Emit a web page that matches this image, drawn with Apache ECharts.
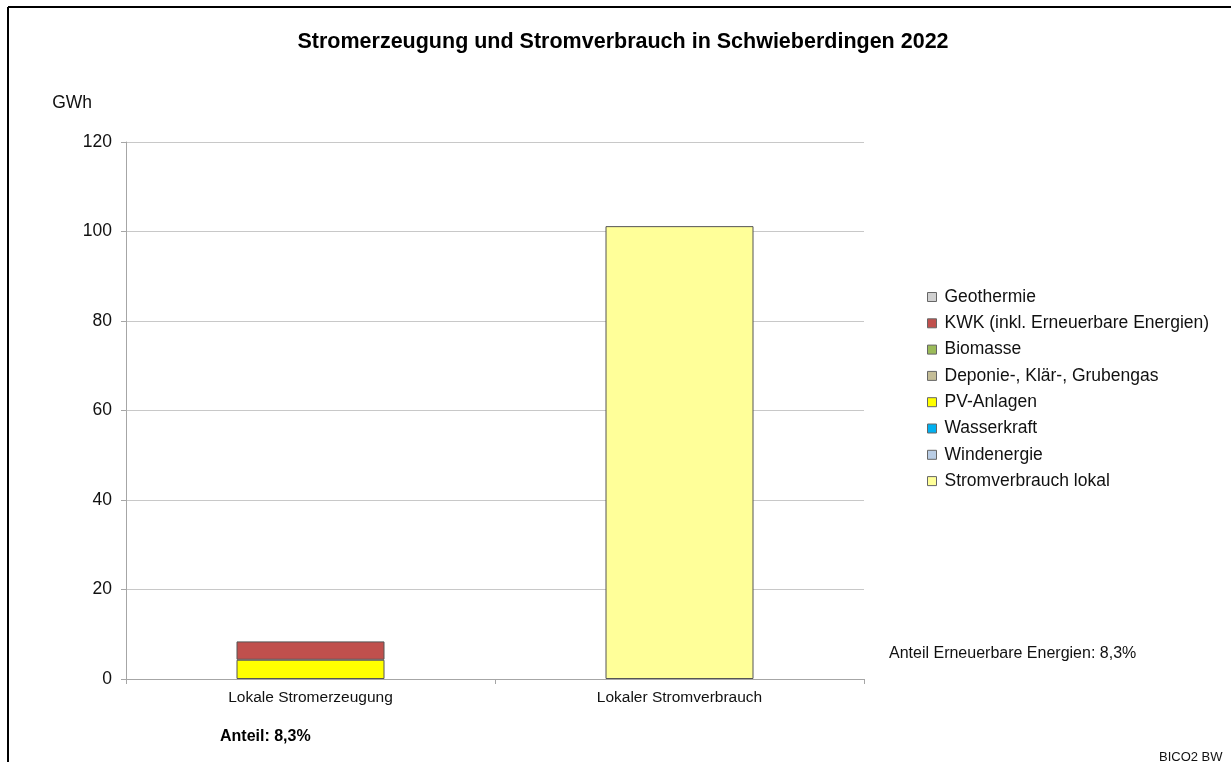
<!DOCTYPE html>
<html>
<head>
<meta charset="utf-8">
<script src="https://cdn.jsdelivr.net/npm/echarts@6/dist/echarts.min.js"></script>
<style>
  html, body { margin: 0; padding: 0; background: #fff; }
  #chart { width: 1231px; height: 762px; }
</style>
</head>
<body>
<div id="chart"></div>
<script>
// Kategorien
const categories = ['Lokale Stromerzeugung', 'Lokaler Stromverbrauch']
// Werte in GWh je Kategorie ('-' = kein Wert)
const geothermie = ['-', '-']
const kwk = [4.1, '-']
const biomasse = ['-', '-']
const deponiegas = ['-', '-']
const pvAnlagen = [4.3, '-']
const wasserkraft = ['-', '-']
const windenergie = ['-', '-']
const verbrauchLokal = ['-', 101.2]
const yTicks = [0, 20, 40, 60, 80, 100, 120]

// Legende von oben nach unten
const legendNames = ['Geothermie', 'KWK (inkl. Erneuerbare Energien)', 'Biomasse',
  'Deponie-, Klär-, Grubengas', 'PV-Anlagen', 'Wasserkraft', 'Windenergie', 'Stromverbrauch lokal']

const font = '"Liberation Sans", Arial, sans-serif'

function bar (name, data, color) {
  return {
    name: name,
    type: 'bar',
    stack: 'strom',
    barWidth: 148,
    data: data,
    itemStyle: { color: color, borderColor: '#555', borderWidth: 1 },
    emphasis: { disabled: true }
  }
}

const chart = echarts.init(document.getElementById('chart'))
chart.setOption({
  animation: false,
  backgroundColor: '#fff',
  textStyle: { fontFamily: font },
  title: {
    text: 'Stromerzeugung und Stromverbrauch in Schwieberdingen 2022',
    left: 618,
    textAlign: 'center',
    top: 26,
    textStyle: { fontSize: 21.5, fontWeight: 'bold', color: '#000', fontFamily: font }
  },
  legend: {
    orient: 'vertical',
    left: 922,
    top: 283,
    icon: 'rect',
    itemWidth: 9,
    itemHeight: 9,
    itemGap: 8.3,
    selectedMode: false,
    data: legendNames,
    itemStyle: { borderColor: '#666', borderWidth: 1 },
    textStyle: { fontSize: 17.5, lineHeight: 18, color: '#111', fontFamily: font, padding: [0, 0, 0, 3] }
  },
  grid: { left: 126, right: 367, top: 142, bottom: 83 },
  xAxis: {
    type: 'category',
    data: categories,
    axisLine: { lineStyle: { color: '#a6a6a6' } },
    axisTick: { show: true, length: 5, lineStyle: { color: '#a6a6a6' } },
    axisLabel: { fontSize: 15.5, color: '#111', margin: 11, fontFamily: font }
  },
  yAxis: {
    type: 'value',
    min: yTicks[0],
    max: yTicks[yTicks.length - 1],
    interval: 20,
    name: 'GWh',
    nameLocation: 'end',
    nameGap: 30,
    nameTextStyle: { fontSize: 17.5, color: '#111', align: 'right', padding: [0, 34, 0, 0], fontFamily: font },
    axisLine: { show: true, lineStyle: { color: '#a6a6a6' } },
    axisTick: { show: true, length: 5, lineStyle: { color: '#a6a6a6' } },
    axisLabel: { fontSize: 17.5, color: '#111', margin: 14, fontFamily: font },
    splitLine: { lineStyle: { color: '#c8c8c8' } }
  },
  series: [
    bar('Stromverbrauch lokal', verbrauchLokal, '#ffff99'),
    bar('Windenergie', windenergie, '#b9cde5'),
    bar('Wasserkraft', wasserkraft, '#00b0f0'),
    bar('PV-Anlagen', pvAnlagen, '#ffff00'),
    bar('Deponie-, Klär-, Grubengas', deponiegas, '#c4bd97'),
    bar('Biomasse', biomasse, '#9bbb59'),
    bar('KWK (inkl. Erneuerbare Energien)', kwk, '#c0504d'),
    bar('Geothermie', geothermie, '#d0d0d0')
  ],
  graphic: [
    { type: 'line', shape: { x1: 8, y1: 7, x2: 1231, y2: 7 }, style: { stroke: '#000', lineWidth: 2 } },
    { type: 'line', shape: { x1: 8, y1: 7, x2: 8, y2: 762 }, style: { stroke: '#000', lineWidth: 2 } },
    { type: 'text', left: 220, top: 729, style: { text: 'Anteil: 8,3%', font: 'bold 16px ' + font, fill: '#000' } },
    { type: 'text', left: 889, top: 646, style: { text: 'Anteil Erneuerbare Energien: 8,3%', font: '16px ' + font, fill: '#111' } },
    { type: 'text', left: 1159, top: 751, style: { text: 'BICO2 BW', font: '13px ' + font, fill: '#111' } }
  ]
})
</script>
</body>
</html>
